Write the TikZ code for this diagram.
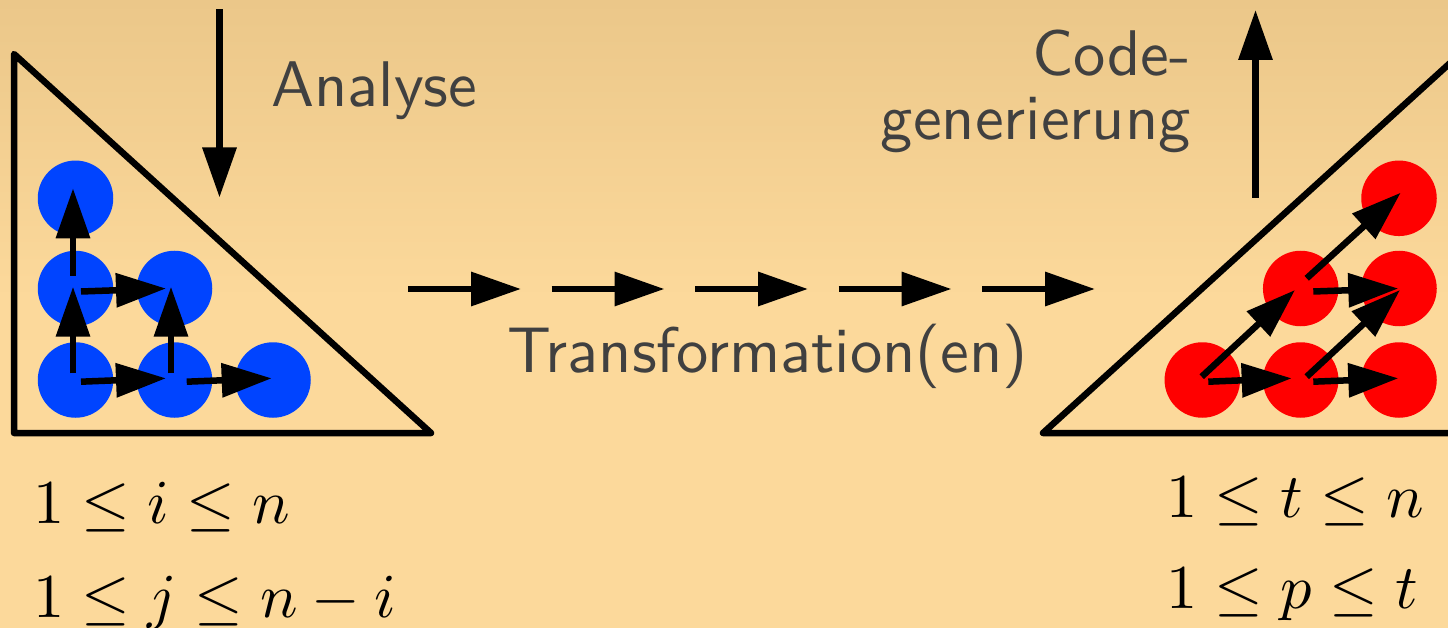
\RequirePackage{fix-cm}
\documentclass[tikz,border=0pt]{standalone}
\usepackage{fontspec}
\setsansfont{lmsans10-regular}[Extension=.otf]
% math set from the 10pt designs, scaled up
\DeclareFontShape{OT1}{cmr}{m}{n}{<->cmr10}{}
\DeclareFontShape{OML}{cmm}{m}{it}{<->cmmi10}{}
\usetikzlibrary{arrows.meta,calc}

\definecolor{bgtop}{RGB}{235,199,137}
\definecolor{bgbot}{RGB}{252,217,155}
\definecolor{dotblue}{RGB}{0,68,255}
\definecolor{dotred}{RGB}{255,0,0}
\definecolor{labelgray}{RGB}{64,64,64}

\begin{document}
\begin{tikzpicture}[x=1pt,y=-1pt,
  caption/.style={font=\fontsize{64.5}{77}\selectfont\sffamily, text=labelgray, inner sep=0pt},
  formula/.style={font=\fontsize{62.5}{76}\selectfont, inner sep=0pt},
  bdot/.style={circle, fill=dotblue, minimum size=75.5pt, inner sep=0pt},
  rdot/.style={circle, fill=dotred, minimum size=75.5pt, inner sep=0pt},
  flow/.style={line width=6.5pt, -{Triangle[length=50pt,width=33pt]}},
  spacebound/.style={line width=6.5pt, line join=round, line cap=round}]

% page and background
\useasboundingbox (0,0) rectangle (1448,628);
\clip (0,0) rectangle (1448,628);
\fill[bgbot] (0,0) rectangle (1448,628);
\shade[top color=bgtop, bottom color=bgbot] (0,0) rectangle (1448,300);

% iteration spaces
\draw[spacebound] (14,54) -- (14,433) -- (431,433) -- cycle;
\draw[spacebound] (1043,433) -- (1460,433) -- (1460,54) -- cycle;

% original iteration points
\node[bdot] (b1) at (75.5,380) {};
\node[bdot] (b2) at (174.5,380) {};
\node[bdot] (b3) at (273,380) {};
\node[bdot] (b4) at (75.5,288.5) {};
\node[bdot] (b5) at (174.5,288.5) {};
\node[bdot] (b6) at (75.5,198.3) {};

\draw[flow] ($(b1)+(5.5,1.7)$) -- ($(b2)+(-8.5,-1.7)$);
\draw[flow] ($(b2)+(12.2,1.7)$) -- ($(b3)+(-1.3,-1.7)$);
\draw[flow] ($(b4)+(5.5,3)$) -- ($(b5)+(-8.5,0)$);
\draw[flow] ($(b1)+(-2.5,-6.7)$) -- ($(b4)+(-2.5,-1.8)$);
\draw[flow] ($(b4)+(-2.5,-12.5)$) -- ($(b6)+(-2.5,-10)$);
\draw[flow] ($(b2)+(-3.5,-6.7)$) -- ($(b5)+(-3.5,-1.8)$);

% transformed iteration points
\node[rdot] (r1) at (1202.3,380) {};
\node[rdot] (r2) at (1300.7,380) {};
\node[rdot] (r3) at (1399,380) {};
\node[rdot] (r4) at (1300.7,288.5) {};
\node[rdot] (r5) at (1399,288.5) {};
\node[rdot] (r6) at (1399,198.3) {};

\draw[flow] ($(r1)+(6,1.7)$) -- ($(r2)+(-9,-1.7)$);
\draw[flow] ($(r2)+(12.6,1.7)$) -- ($(r3)+(-0.7,-1.7)$);
\draw[flow] ($(r4)+(12.6,3)$) -- ($(r5)+(-0.7,0)$);
\draw[flow] ($(r1)+(-0.6,-3.3)$) -- ($(r4)+(-5.7,1.5)$);
\draw[flow] ($(r2)+(6,-3.3)$) -- ($(r5)+(1,1.5)$);
\draw[flow] ($(r4)+(6,-10.2)$) -- ($(r6)+(1.7,-5.6)$);

% analysis and code generation
\coordinate (ain) at (219.5,9.5);
\coordinate (aout) at (219.5,197.5);
\draw[flow] (ain) -- (aout);
\node[caption, anchor=base west] (analyse) at (271,107) {Analyse};

\coordinate (cin) at (1255.5,198);
\coordinate (cout) at (1255.5,10);
\draw[flow] (cin) -- (cout);
\node[caption, anchor=base east] (code1) at (1191,76) {Code-};
\node[caption, anchor=base east] (code2) at (1191,140) {generierung};

% chain of transformations
\foreach \s/\e [count=\k] in {408/521, 551.5/664.5, 695/808, 838.5/951.5, 982/1095} {
  \coordinate (t\k a) at (\s,289);
  \coordinate (t\k b) at (\e,289);
  \draw[flow] (t\k a) -- (t\k b);
}
\node[caption, anchor=base] (trans) at (767.5,372) {Transformation(en)};

% loop bounds
\node[formula, anchor=base west] (lb1) at (33,523) {$1\le i\le n$};
\node[formula, anchor=base west] (lb2) at (33,617) {$1\le j\le n-i$};
\node[formula, anchor=base west] (lb3) at (1166,517) {$1\le t\le n$};
\node[formula, anchor=base west] (lb4) at (1166,608) {$1\le p\le t$};
\end{tikzpicture}
\end{document}
